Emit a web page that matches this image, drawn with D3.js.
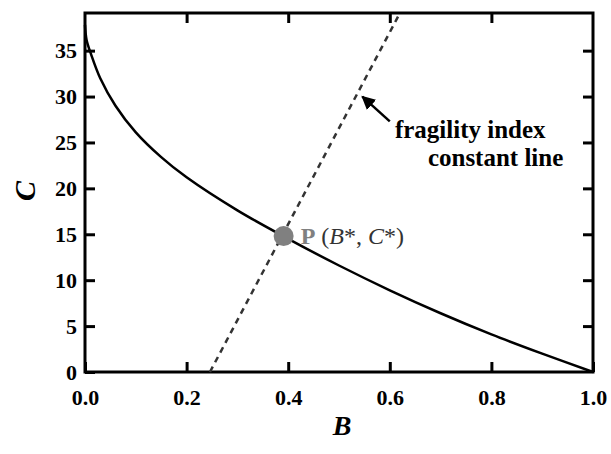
<!DOCTYPE html>
<html>
<head>
<meta charset="utf-8">
<script src="https://cdn.jsdelivr.net/npm/d3@7"></script>
<style>
  body { margin: 0; background: #fff; }
  text { font-family: "Liberation Serif", "Times New Roman", serif; }
</style>
</head>
<body>
<div id="chart"></div>
<script>
// curve C(B)
const curveB = [0, 0.003, 0.012, 0.03, 0.06, 0.1, 0.15, 0.2, 0.3, 0.4, 0.5, 0.6, 0.7, 0.8, 0.9, 1.0];
const curveC = [37.8, 36.2, 34.6, 32.0, 29.0, 26.1, 23.4, 21.2, 17.6, 14.5, 11.6, 8.9, 6.4, 4.1, 2.0, 0];

// fragility index constant line (dashed)
const lineB = [0.246, 0.62];
const lineC = [0, 39.1];

// point P
const pointB = 0.391;
const pointC = 14.8;

const xTicks = [0, 0.2, 0.4, 0.6, 0.8, 1.0];
const yTicks = [0, 5, 10, 15, 20, 25, 30, 35];

const margin = { top: 13, right: 18, bottom: 82, left: 85 },
      width = 611 - margin.left - margin.right,
      height = 454 - margin.top - margin.bottom;

const svg = d3.select("#chart").append("svg")
    .attr("width", 611)
    .attr("height", 454);

const g = svg.append("g")
    .attr("transform", `translate(${margin.left},${margin.top})`);

const x = d3.scaleLinear().domain([0, 1]).range([0, width]);
const y = d3.scaleLinear().domain([0, 39.1]).range([height, 0]);

// Axes with inward ticks
const styleAxis = sel => {
    sel.select(".domain").remove();
    sel.selectAll(".tick line").attr("stroke", "#000").attr("stroke-width", 3);
    sel.selectAll("text")
        .style("font-size", "22px")
        .style("font-weight", "bold")
        .attr("fill", "#000");
};

g.append("g")
    .attr("transform", `translate(0,${height})`)
    .call(d3.axisBottom(x).tickValues(xTicks).tickFormat(d3.format(".1f"))
        .tickSizeInner(-10).tickSizeOuter(0).tickPadding(17))
    .call(styleAxis);

g.append("g")
    .call(d3.axisLeft(y).tickValues(yTicks).tickFormat(d3.format("d"))
        .tickSizeInner(-10).tickSizeOuter(0).tickPadding(8))
    .call(styleAxis);

g.append("g")
    .call(d3.axisTop(x).tickValues(xTicks.slice(1, -1)).tickFormat("")
        .tickSizeInner(-10).tickSizeOuter(0))
    .call(styleAxis);

g.append("g")
    .attr("transform", `translate(${width},0)`)
    .call(d3.axisRight(y).tickValues(yTicks.slice(1)).tickFormat("")
        .tickSizeInner(-10).tickSizeOuter(0))
    .call(styleAxis);

// frame
g.append("rect")
    .attr("width", width)
    .attr("height", height)
    .attr("fill", "none")
    .attr("stroke", "#000")
    .attr("stroke-width", 3);

// dashed line
g.append("line")
    .attr("x1", x(lineB[0])).attr("y1", y(lineC[0]))
    .attr("x2", x(lineB[1])).attr("y2", y(lineC[1]))
    .attr("stroke", "#333")
    .attr("stroke-width", 2.5)
    .attr("stroke-dasharray", "6,5");

// curve
const curveData = curveB.map((b, i) => ({ b, c: curveC[i] }));
g.append("path")
    .datum(curveData)
    .attr("fill", "none")
    .attr("stroke", "#000")
    .attr("stroke-width", 2.5)
    .attr("d", d3.line().x(d => x(d.b)).y(d => y(d.c)).curve(d3.curveCatmullRom.alpha(0.5)));

// point P
g.append("circle")
    .attr("cx", x(pointB))
    .attr("cy", y(pointC))
    .attr("r", 10)
    .attr("fill", "#808080");

const pLabel = g.append("text")
    .attr("x", x(pointB) + 17)
    .attr("y", y(pointC) + 8)
    .style("font-size", "24px")
    .attr("fill", "#333");
pLabel.append("tspan").text("P").attr("fill", "#808080").style("font-weight", "bold");
pLabel.append("tspan").text(" (");
pLabel.append("tspan").text("B").style("font-style", "italic");
pLabel.append("tspan").text("*, ");
pLabel.append("tspan").text("C").style("font-style", "italic");
pLabel.append("tspan").text("*)");

// arrow annotation
svg.append("defs").append("marker")
    .attr("id", "arrow")
    .attr("viewBox", "0 0 10 10")
    .attr("refX", 9).attr("refY", 5)
    .attr("markerWidth", 5.5).attr("markerHeight", 5.5)
    .attr("orient", "auto")
  .append("path")
    .attr("d", "M0,0 L10,5 L0,10 Z")
    .attr("fill", "#000");

g.append("line")
    .attr("x1", x(0.600)).attr("y1", y(27.3))
    .attr("x2", x(0.546)).attr("y2", y(30.0))
    .attr("stroke", "#000")
    .attr("stroke-width", 2.5)
    .attr("marker-end", "url(#arrow)");

g.append("text")
    .attr("x", x(0.61)).attr("y", y(25.5))
    .style("font-size", "25px").style("font-weight", "bold")
    .text("fragility index");
g.append("text")
    .attr("x", x(0.675)).attr("y", y(22.4))
    .style("font-size", "25px").style("font-weight", "bold")
    .text("constant line");

// axis titles
svg.append("text")
    .attr("x", margin.left + x(0.506))
    .attr("y", 435)
    .attr("text-anchor", "middle")
    .style("font-size", "28px").style("font-weight", "bold").style("font-style", "italic")
    .text("B");

svg.append("text")
    .attr("transform", "translate(35,191) rotate(-90)")
    .attr("text-anchor", "middle")
    .style("font-size", "30px").style("font-weight", "bold").style("font-style", "italic")
    .text("C");
</script>
</body>
</html>
